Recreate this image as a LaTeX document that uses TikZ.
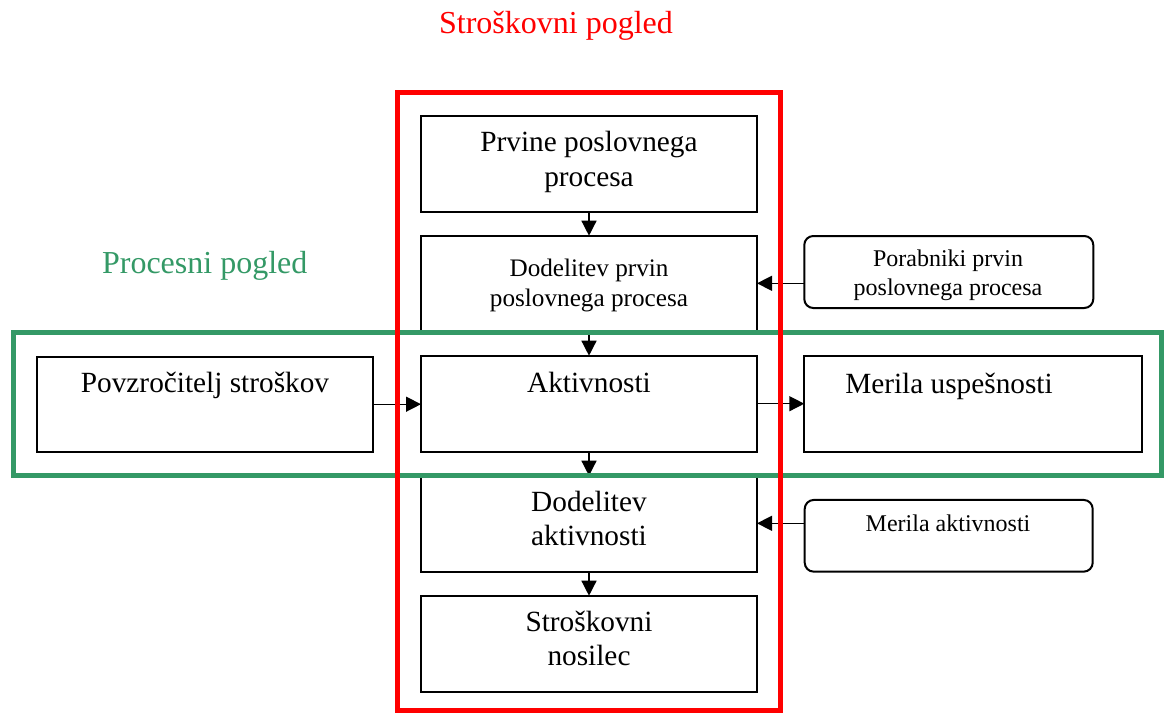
\documentclass[tikz,border=0pt]{standalone}
\usepackage{fontspec}
\setmainfont{Liberation Serif}
\usetikzlibrary{arrows.meta}
\definecolor{pgreen}{RGB}{52,153,102}
\definecolor{pred}{RGB}{255,0,0}
\tikzset{
  box/.style={draw=black, line width=2pt, inner sep=0pt, outer sep=0pt, minimum width=336pt, minimum height=96pt},
  rbox/.style={draw=black, line width=2pt, rounded corners=9pt, inner sep=0pt, outer sep=0pt, minimum width=289pt, minimum height=72pt},
  arr/.style={line width=1.4pt, -{Triangle[length=15pt,width=15pt]}},
  txt/.style={inner sep=0pt, anchor=base},
  big/.style={txt, font=\fontsize{29.3}{34}\selectfont},
  mid/.style={txt, font=\fontsize{25.2}{30}\selectfont},
  small/.style={txt, font=\fontsize{24}{28}\selectfont},
  head/.style={txt, font=\fontsize{32}{36}\selectfont},
}
\begin{document}
\begin{tikzpicture}[x=1pt,y=-1pt]
\useasboundingbox (0,0) rectangle (1164,715);
% boxes
\node[box] (b1) at (589,163.7) {};
\node[box] (b2) at (589,283.7) {};
\node[box] (b3) at (589,403.7) {};
\node[box] (b4) at (589,523.7) {};
\node[box] (b5) at (589,643.7) {};
\node[box, minimum width=336.6pt, minimum height=95pt] (lb) at (205,404.2) {};
\node[box, minimum width=337.4pt, minimum height=95.7pt] (mu) at (973,403.8) {};
\node[rbox] (por) at (948.8,272) {};
\node[rbox, minimum width=288pt, minimum height=71.7pt] (ma) at (948.7,535.8) {};
% arrows
\draw[arr] (b1.south) -- (b2.north);
\draw[arr] (b2.south) -- (b3.north);
\draw[arr] (b3.south) -- (b4.north);
\draw[arr] (b4.south) -- (b5.north);
\draw[arr] (lb.east) -- (lb.east -| b3.west);
\draw[arr] (b3.east) -- (b3.east -| mu.west);
\draw[arr] ([yshift=-11.3pt]por.west) -- ([yshift=-11.3pt]por.west -| b2.east);
\draw[arr] ([yshift=12.5pt]ma.west) -- ([yshift=12.5pt]ma.west -| b4.east);
% texts
\node[big] (t1a) at (589,151.7) {Prvine poslovnega};
\node[big] (t1b) at (589,186) {procesa};
\node[mid] (t2a) at (589,276.7) {Dodelitev prvin};
\node[mid] (t2b) at (589,306.7) {poslovnega procesa};
\node[big] (t3) at (589,392.7) {Aktivnosti};
\node[big] (t4a) at (589,511.7) {Dodelitev};
\node[big] (t4b) at (589,545) {aktivnosti};
\node[big] (t5a) at (589,631.7) {Stroškovni};
\node[big] (t5b) at (589,665) {nosilec};
\node[big] (tl) at (205,392.7) {Povzročitelj stroškov};
\node[big] (tmu) at (949,393.3) {Merila uspešnosti};
\node[small] (tpa) at (948,266.7) {Porabniki prvin};
\node[small] (tpb) at (948,295) {poslovnega procesa};
\node[small] (tma) at (948,531.7) {Merila aktivnosti};
\node[head, text=pred] (title) at (556,33.3) {Stroškovni pogled};
\node[head, text=pgreen] (proc) at (204.7,273.3) {Procesni pogled};
% frames
\draw[pgreen, line width=5pt] (13,332.5) rectangle (1161,475);
\draw[pred, line width=5pt] (397.5,92.5) rectangle (780,710.5);
\end{tikzpicture}
\end{document}
